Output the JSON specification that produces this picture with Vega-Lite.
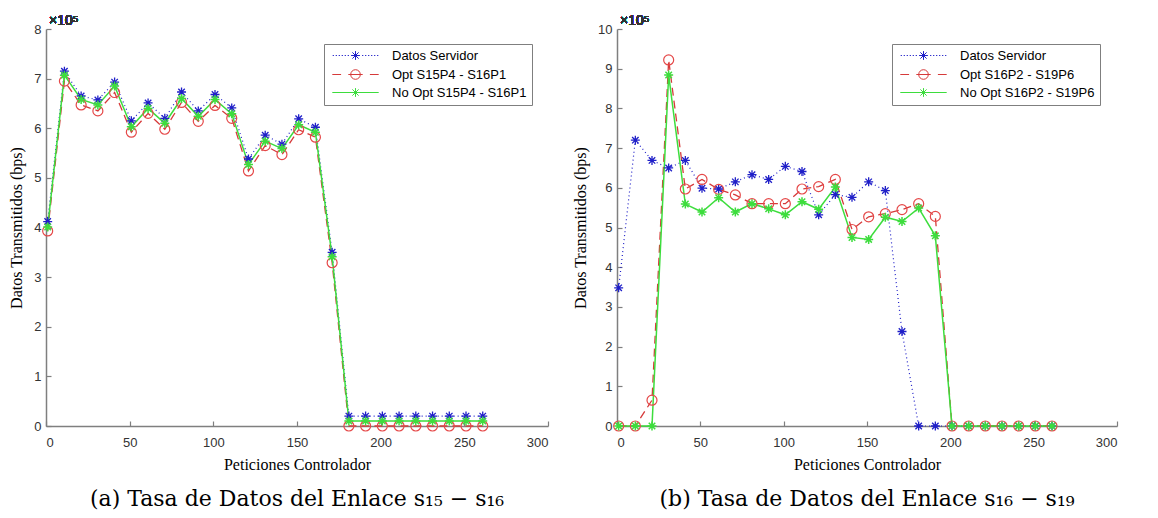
{
  "$schema": "https://vega.github.io/schema/vega-lite/v6.json",
  "background": "white",
  "padding": {"left": 8, "top": 14, "right": 3, "bottom": 2},
  "config": {
    "view": {"stroke": null},
    "axis": {"domainColor": "#7f7f7f", "domainWidth": 1.5, "tickColor": "#7f7f7f", "tickSize": -5, "tickWidth": 1.2, "labelFont": "Liberation Sans", "labelFontSize": 13, "labelColor": "#333333", "titleFont": "Liberation Serif", "titleFontSize": 16, "titleFontWeight": "normal", "titleColor": "#000000", "grid": false},
    "axisX": {"labelPadding": 15, "titlePadding": 7},
    "axisY": {"labelPadding": 10, "titlePadding": 9},
    "title": {"font": "DejaVu Serif", "fontSize": 22, "fontWeight": "normal", "color": "#000000"}
  },
  "datasets": {
    "a": [
      {"s":"Datos Servidor","x":1,"y":4.12},{"s":"Datos Servidor","x":11,"y":7.15},{"s":"Datos Servidor","x":21,"y":6.65},{"s":"Datos Servidor","x":31,"y":6.57},{"s":"Datos Servidor","x":41,"y":6.93},{"s":"Datos Servidor","x":51,"y":6.15},{"s":"Datos Servidor","x":61,"y":6.51},{"s":"Datos Servidor","x":71,"y":6.2},{"s":"Datos Servidor","x":81,"y":6.73},{"s":"Datos Servidor","x":91,"y":6.35},{"s":"Datos Servidor","x":101,"y":6.68},{"s":"Datos Servidor","x":111,"y":6.41},{"s":"Datos Servidor","x":121,"y":5.38},{"s":"Datos Servidor","x":131,"y":5.86},{"s":"Datos Servidor","x":141,"y":5.68},{"s":"Datos Servidor","x":151,"y":6.19},{"s":"Datos Servidor","x":161,"y":6.02},{"s":"Datos Servidor","x":171,"y":3.5},{"s":"Datos Servidor","x":181,"y":0.2},{"s":"Datos Servidor","x":191,"y":0.2},{"s":"Datos Servidor","x":201,"y":0.2},{"s":"Datos Servidor","x":211,"y":0.2},{"s":"Datos Servidor","x":221,"y":0.2},{"s":"Datos Servidor","x":231,"y":0.2},{"s":"Datos Servidor","x":241,"y":0.2},{"s":"Datos Servidor","x":251,"y":0.2},{"s":"Datos Servidor","x":261,"y":0.2},
      {"s":"Opt S15P4 - S16P1","x":1,"y":3.93},{"s":"Opt S15P4 - S16P1","x":11,"y":6.95},{"s":"Opt S15P4 - S16P1","x":21,"y":6.47},{"s":"Opt S15P4 - S16P1","x":31,"y":6.35},{"s":"Opt S15P4 - S16P1","x":41,"y":6.72},{"s":"Opt S15P4 - S16P1","x":51,"y":5.92},{"s":"Opt S15P4 - S16P1","x":61,"y":6.3},{"s":"Opt S15P4 - S16P1","x":71,"y":5.98},{"s":"Opt S15P4 - S16P1","x":81,"y":6.52},{"s":"Opt S15P4 - S16P1","x":91,"y":6.14},{"s":"Opt S15P4 - S16P1","x":101,"y":6.46},{"s":"Opt S15P4 - S16P1","x":111,"y":6.2},{"s":"Opt S15P4 - S16P1","x":121,"y":5.14},{"s":"Opt S15P4 - S16P1","x":131,"y":5.65},{"s":"Opt S15P4 - S16P1","x":141,"y":5.47},{"s":"Opt S15P4 - S16P1","x":151,"y":5.97},{"s":"Opt S15P4 - S16P1","x":161,"y":5.82},{"s":"Opt S15P4 - S16P1","x":171,"y":3.29},{"s":"Opt S15P4 - S16P1","x":181,"y":0},{"s":"Opt S15P4 - S16P1","x":191,"y":0},{"s":"Opt S15P4 - S16P1","x":201,"y":0},{"s":"Opt S15P4 - S16P1","x":211,"y":0},{"s":"Opt S15P4 - S16P1","x":221,"y":0},{"s":"Opt S15P4 - S16P1","x":231,"y":0},{"s":"Opt S15P4 - S16P1","x":241,"y":0},{"s":"Opt S15P4 - S16P1","x":251,"y":0},{"s":"Opt S15P4 - S16P1","x":261,"y":0},
      {"s":"No Opt S15P4 - S16P1","x":1,"y":4.01},{"s":"No Opt S15P4 - S16P1","x":11,"y":7.07},{"s":"No Opt S15P4 - S16P1","x":21,"y":6.58},{"s":"No Opt S15P4 - S16P1","x":31,"y":6.47},{"s":"No Opt S15P4 - S16P1","x":41,"y":6.85},{"s":"No Opt S15P4 - S16P1","x":51,"y":6.03},{"s":"No Opt S15P4 - S16P1","x":61,"y":6.4},{"s":"No Opt S15P4 - S16P1","x":71,"y":6.1},{"s":"No Opt S15P4 - S16P1","x":81,"y":6.6},{"s":"No Opt S15P4 - S16P1","x":91,"y":6.24},{"s":"No Opt S15P4 - S16P1","x":101,"y":6.58},{"s":"No Opt S15P4 - S16P1","x":111,"y":6.29},{"s":"No Opt S15P4 - S16P1","x":121,"y":5.27},{"s":"No Opt S15P4 - S16P1","x":131,"y":5.74},{"s":"No Opt S15P4 - S16P1","x":141,"y":5.59},{"s":"No Opt S15P4 - S16P1","x":151,"y":6.07},{"s":"No Opt S15P4 - S16P1","x":161,"y":5.92},{"s":"No Opt S15P4 - S16P1","x":171,"y":3.41},{"s":"No Opt S15P4 - S16P1","x":181,"y":0.1},{"s":"No Opt S15P4 - S16P1","x":191,"y":0.1},{"s":"No Opt S15P4 - S16P1","x":201,"y":0.1},{"s":"No Opt S15P4 - S16P1","x":211,"y":0.1},{"s":"No Opt S15P4 - S16P1","x":221,"y":0.1},{"s":"No Opt S15P4 - S16P1","x":231,"y":0.1},{"s":"No Opt S15P4 - S16P1","x":241,"y":0.1},{"s":"No Opt S15P4 - S16P1","x":251,"y":0.1},{"s":"No Opt S15P4 - S16P1","x":261,"y":0.1}
    ],
    "b": [
      {"s":"Datos Servidor","x":1,"y":3.48},{"s":"Datos Servidor","x":11,"y":7.2},{"s":"Datos Servidor","x":21,"y":6.69},{"s":"Datos Servidor","x":31,"y":6.5},{"s":"Datos Servidor","x":41,"y":6.69},{"s":"Datos Servidor","x":51,"y":5.99},{"s":"Datos Servidor","x":61,"y":5.97},{"s":"Datos Servidor","x":71,"y":6.15},{"s":"Datos Servidor","x":81,"y":6.33},{"s":"Datos Servidor","x":91,"y":6.21},{"s":"Datos Servidor","x":101,"y":6.54},{"s":"Datos Servidor","x":111,"y":6.41},{"s":"Datos Servidor","x":121,"y":5.32},{"s":"Datos Servidor","x":131,"y":5.83},{"s":"Datos Servidor","x":141,"y":5.76},{"s":"Datos Servidor","x":151,"y":6.15},{"s":"Datos Servidor","x":161,"y":5.93},{"s":"Datos Servidor","x":171,"y":2.38},{"s":"Datos Servidor","x":181,"y":0},{"s":"Datos Servidor","x":191,"y":0},{"s":"Datos Servidor","x":201,"y":0},{"s":"Datos Servidor","x":211,"y":0},{"s":"Datos Servidor","x":221,"y":0},{"s":"Datos Servidor","x":231,"y":0},{"s":"Datos Servidor","x":241,"y":0},{"s":"Datos Servidor","x":251,"y":0},{"s":"Datos Servidor","x":261,"y":0},
      {"s":"Opt S16P2 - S19P6","x":1,"y":0},{"s":"Opt S16P2 - S19P6","x":11,"y":0},{"s":"Opt S16P2 - S19P6","x":21,"y":0.65},{"s":"Opt S16P2 - S19P6","x":31,"y":9.22},{"s":"Opt S16P2 - S19P6","x":41,"y":5.97},{"s":"Opt S16P2 - S19P6","x":51,"y":6.21},{"s":"Opt S16P2 - S19P6","x":61,"y":5.96},{"s":"Opt S16P2 - S19P6","x":71,"y":5.82},{"s":"Opt S16P2 - S19P6","x":81,"y":5.6},{"s":"Opt S16P2 - S19P6","x":91,"y":5.6},{"s":"Opt S16P2 - S19P6","x":101,"y":5.6},{"s":"Opt S16P2 - S19P6","x":111,"y":5.97},{"s":"Opt S16P2 - S19P6","x":121,"y":6.03},{"s":"Opt S16P2 - S19P6","x":131,"y":6.21},{"s":"Opt S16P2 - S19P6","x":141,"y":4.95},{"s":"Opt S16P2 - S19P6","x":151,"y":5.27},{"s":"Opt S16P2 - S19P6","x":161,"y":5.35},{"s":"Opt S16P2 - S19P6","x":171,"y":5.45},{"s":"Opt S16P2 - S19P6","x":181,"y":5.6},{"s":"Opt S16P2 - S19P6","x":191,"y":5.28},{"s":"Opt S16P2 - S19P6","x":201,"y":0},{"s":"Opt S16P2 - S19P6","x":211,"y":0},{"s":"Opt S16P2 - S19P6","x":221,"y":0},{"s":"Opt S16P2 - S19P6","x":231,"y":0},{"s":"Opt S16P2 - S19P6","x":241,"y":0},{"s":"Opt S16P2 - S19P6","x":251,"y":0},{"s":"Opt S16P2 - S19P6","x":261,"y":0},
      {"s":"No Opt S16P2 - S19P6","x":1,"y":0},{"s":"No Opt S16P2 - S19P6","x":11,"y":0},{"s":"No Opt S16P2 - S19P6","x":21,"y":0},{"s":"No Opt S16P2 - S19P6","x":31,"y":8.84},{"s":"No Opt S16P2 - S19P6","x":41,"y":5.59},{"s":"No Opt S16P2 - S19P6","x":51,"y":5.39},{"s":"No Opt S16P2 - S19P6","x":61,"y":5.75},{"s":"No Opt S16P2 - S19P6","x":71,"y":5.39},{"s":"No Opt S16P2 - S19P6","x":81,"y":5.6},{"s":"No Opt S16P2 - S19P6","x":91,"y":5.47},{"s":"No Opt S16P2 - S19P6","x":101,"y":5.32},{"s":"No Opt S16P2 - S19P6","x":111,"y":5.65},{"s":"No Opt S16P2 - S19P6","x":121,"y":5.46},{"s":"No Opt S16P2 - S19P6","x":131,"y":6.02},{"s":"No Opt S16P2 - S19P6","x":141,"y":4.75},{"s":"No Opt S16P2 - S19P6","x":151,"y":4.7},{"s":"No Opt S16P2 - S19P6","x":161,"y":5.26},{"s":"No Opt S16P2 - S19P6","x":171,"y":5.15},{"s":"No Opt S16P2 - S19P6","x":181,"y":5.49},{"s":"No Opt S16P2 - S19P6","x":191,"y":4.79},{"s":"No Opt S16P2 - S19P6","x":201,"y":0},{"s":"No Opt S16P2 - S19P6","x":211,"y":0},{"s":"No Opt S16P2 - S19P6","x":221,"y":0},{"s":"No Opt S16P2 - S19P6","x":231,"y":0},{"s":"No Opt S16P2 - S19P6","x":241,"y":0},{"s":"No Opt S16P2 - S19P6","x":251,"y":0},{"s":"No Opt S16P2 - S19P6","x":261,"y":0}
    ]
  },
  "spacing": 23,
  "resolve": {"scale": {"color": "independent", "shape": "independent", "x": "independent", "y": "independent"}, "legend": {"color": "independent", "shape": "independent"}},
  "hconcat": [
    {
      "width": 502, "height": 397,
      "data": {"name": "a"},
      "title": {"text": "(a) Tasa de Datos del Enlace s₁₅ − s₁₆", "orient": "bottom", "anchor": "middle", "frame": "group", "offset": 17},
      "encoding": {
        "x": {"field": "x", "type": "quantitative", "scale": {"domain": [0, 300]}, "axis": {"values": [0, 50, 100, 150, 200, 250, 300], "title": "Peticiones Controlador"}},
        "y": {"field": "y", "type": "quantitative", "scale": {"domain": [0, 8]}, "axis": {"values": [0, 1, 2, 3, 4, 5, 6, 7, 8], "title": "Datos Transmitidos (bps)"}}
      },
      "layer": [
        {"transform": [{"filter": {"field": "s", "equal": "Datos Servidor"}}], "mark": {"type": "line", "color": "#1f1fc8", "strokeDash": [1, 3], "strokeWidth": 1.2}},
        {"transform": [{"filter": {"field": "s", "equal": "Opt S15P4 - S16P1"}}], "mark": {"type": "line", "color": "#d63a3a", "strokeDash": [8, 5], "strokeWidth": 1.3}},
        {"transform": [{"filter": {"field": "s", "equal": "No Opt S15P4 - S16P1"}}], "mark": {"type": "line", "color": "#3ddd3d", "strokeWidth": 1.5}},
        {"transform": [{"filter": {"field": "s", "equal": "Datos Servidor"}}], "mark": {"type": "point", "shape": "M-1,0H1M0,-1V1M-0.72,-0.72L0.72,0.72M-0.72,0.72L0.72,-0.72", "size": 81, "filled": false, "color": "#1f1fc8", "strokeWidth": 1.3, "opacity": 1}},
        {"transform": [{"filter": {"field": "s", "equal": "Opt S15P4 - S16P1"}}], "mark": {"type": "point", "shape": "circle", "size": 100, "filled": false, "color": "#e54848", "strokeWidth": 1.2, "opacity": 1}},
        {"transform": [{"filter": {"field": "s", "equal": "No Opt S15P4 - S16P1"}}], "mark": {"type": "point", "shape": "M-1,0H1M0,-1V1M-0.72,-0.72L0.72,0.72M-0.72,0.72L0.72,-0.72", "size": 81, "filled": false, "color": "#3ddd3d", "strokeWidth": 1.5, "opacity": 1}},
        {"mark": {"type": "text", "text": "×10⁵", "align": "left", "baseline": "bottom", "dx": 3, "dy": -1, "font": "Liberation Sans", "fontSize": 14, "color": "#333333"}, "encoding": {"x": {"datum": 0}, "y": {"datum": 8}}},
        {
          "transform": [{"filter": "false"}],
          "mark": {"type": "point", "filled": false, "strokeWidth": 1, "size": 64, "opacity": 1},
          "encoding": {
            "color": {"field": "s", "type": "nominal", "scale": {"domain": ["Datos Servidor", "Opt S15P4 - S16P1", "No Opt S15P4 - S16P1"], "range": ["#1f1fc8", "#d63a3a", "#3ddd3d"]},
              "legend": {"title": null, "orient": "none", "legendX": 278, "legendY": 15, "fillColor": "white", "strokeColor": "#7f7f7f", "padding": 5, "labelFont": "Liberation Sans", "labelFontSize": 13, "labelColor": "#000000", "symbolSize": 64, "symbolStrokeWidth": 1, "symbolOffset": 20, "labelOffset": 30, "rowPadding": 4}},
            "shape": {"field": "s", "type": "nominal", "scale": {"domain": ["Datos Servidor", "Opt S15P4 - S16P1", "No Opt S15P4 - S16P1"], "range": [
              "M-5.7,0h0.3M-4.95,0h0.3M-4.2,0h0.3M-3.45,0h0.3M-2.7,0h0.3M-1.95,0h0.3M1.65,0h0.3M2.4,0h0.3M3.15,0h0.3M3.9,0h0.3M4.65,0h0.3M5.4,0h0.3M-1.1,0H1.1M0,-1.1V1.1M-0.78,-0.78L0.78,0.78M-0.78,0.78L0.78,-0.78",
              "M-5.8,0H-3.6M-1.8,0H1.8M3.6,0H5.8M-1.2,0A1.2,1.2 0 1,0 1.2,0A1.2,1.2 0 1,0 -1.2,0",
              "M-5.8,0H5.8M0,-1.1V1.1M-0.78,-0.78L0.78,0.78M-0.78,0.78L0.78,-0.78"]},
              "legend": {"title": null, "orient": "none", "legendX": 278, "legendY": 15, "fillColor": "white", "strokeColor": "#7f7f7f", "padding": 5, "labelFont": "Liberation Sans", "labelFontSize": 13, "labelColor": "#000000", "symbolSize": 64, "symbolStrokeWidth": 1, "symbolOffset": 20, "labelOffset": 30, "rowPadding": 4}}
          }
        }
      ]
    },
    {
      "width": 500, "height": 397,
      "data": {"name": "b"},
      "title": {"text": "(b) Tasa de Datos del Enlace s₁₆ − s₁₉", "orient": "bottom", "anchor": "middle", "frame": "group", "offset": 17},
      "encoding": {
        "x": {"field": "x", "type": "quantitative", "scale": {"domain": [0, 300]}, "axis": {"values": [0, 50, 100, 150, 200, 250, 300], "title": "Peticiones Controlador"}},
        "y": {"field": "y", "type": "quantitative", "scale": {"domain": [0, 10]}, "axis": {"values": [0, 1, 2, 3, 4, 5, 6, 7, 8, 9, 10], "title": "Datos Transmitidos (bps)"}}
      },
      "layer": [
        {"transform": [{"filter": {"field": "s", "equal": "Datos Servidor"}}], "mark": {"type": "line", "color": "#1f1fc8", "strokeDash": [1, 3], "strokeWidth": 1.2}},
        {"transform": [{"filter": {"field": "s", "equal": "Opt S16P2 - S19P6"}}], "mark": {"type": "line", "color": "#d63a3a", "strokeDash": [8, 5], "strokeWidth": 1.3}},
        {"transform": [{"filter": {"field": "s", "equal": "No Opt S16P2 - S19P6"}}], "mark": {"type": "line", "color": "#3ddd3d", "strokeWidth": 1.5}},
        {"transform": [{"filter": {"field": "s", "equal": "Datos Servidor"}}], "mark": {"type": "point", "shape": "M-1,0H1M0,-1V1M-0.72,-0.72L0.72,0.72M-0.72,0.72L0.72,-0.72", "size": 81, "filled": false, "color": "#1f1fc8", "strokeWidth": 1.3, "opacity": 1}},
        {"transform": [{"filter": {"field": "s", "equal": "Opt S16P2 - S19P6"}}], "mark": {"type": "point", "shape": "circle", "size": 100, "filled": false, "color": "#e54848", "strokeWidth": 1.2, "opacity": 1}},
        {"transform": [{"filter": {"field": "s", "equal": "No Opt S16P2 - S19P6"}}], "mark": {"type": "point", "shape": "M-1,0H1M0,-1V1M-0.72,-0.72L0.72,0.72M-0.72,0.72L0.72,-0.72", "size": 81, "filled": false, "color": "#3ddd3d", "strokeWidth": 1.5, "opacity": 1}},
        {"mark": {"type": "text", "text": "×10⁵", "align": "left", "baseline": "bottom", "dx": 3, "dy": -1, "font": "Liberation Sans", "fontSize": 14, "color": "#333333"}, "encoding": {"x": {"datum": 0}, "y": {"datum": 10}}},
        {
          "transform": [{"filter": "false"}],
          "mark": {"type": "point", "filled": false, "strokeWidth": 1, "size": 64, "opacity": 1},
          "encoding": {
            "color": {"field": "s", "type": "nominal", "scale": {"domain": ["Datos Servidor", "Opt S16P2 - S19P6", "No Opt S16P2 - S19P6"], "range": ["#1f1fc8", "#d63a3a", "#3ddd3d"]},
              "legend": {"title": null, "orient": "none", "legendX": 275, "legendY": 15, "fillColor": "white", "strokeColor": "#7f7f7f", "padding": 5, "labelFont": "Liberation Sans", "labelFontSize": 13, "labelColor": "#000000", "symbolSize": 64, "symbolStrokeWidth": 1, "symbolOffset": 20, "labelOffset": 30, "rowPadding": 4}},
            "shape": {"field": "s", "type": "nominal", "scale": {"domain": ["Datos Servidor", "Opt S16P2 - S19P6", "No Opt S16P2 - S19P6"], "range": [
              "M-5.7,0h0.3M-4.95,0h0.3M-4.2,0h0.3M-3.45,0h0.3M-2.7,0h0.3M-1.95,0h0.3M1.65,0h0.3M2.4,0h0.3M3.15,0h0.3M3.9,0h0.3M4.65,0h0.3M5.4,0h0.3M-1.1,0H1.1M0,-1.1V1.1M-0.78,-0.78L0.78,0.78M-0.78,0.78L0.78,-0.78",
              "M-5.8,0H-3.6M-1.8,0H1.8M3.6,0H5.8M-1.2,0A1.2,1.2 0 1,0 1.2,0A1.2,1.2 0 1,0 -1.2,0",
              "M-5.8,0H5.8M0,-1.1V1.1M-0.78,-0.78L0.78,0.78M-0.78,0.78L0.78,-0.78"]},
              "legend": {"title": null, "orient": "none", "legendX": 275, "legendY": 15, "fillColor": "white", "strokeColor": "#7f7f7f", "padding": 5, "labelFont": "Liberation Sans", "labelFontSize": 13, "labelColor": "#000000", "symbolSize": 64, "symbolStrokeWidth": 1, "symbolOffset": 20, "labelOffset": 30, "rowPadding": 4}}
          }
        }
      ]
    }
  ]
}
